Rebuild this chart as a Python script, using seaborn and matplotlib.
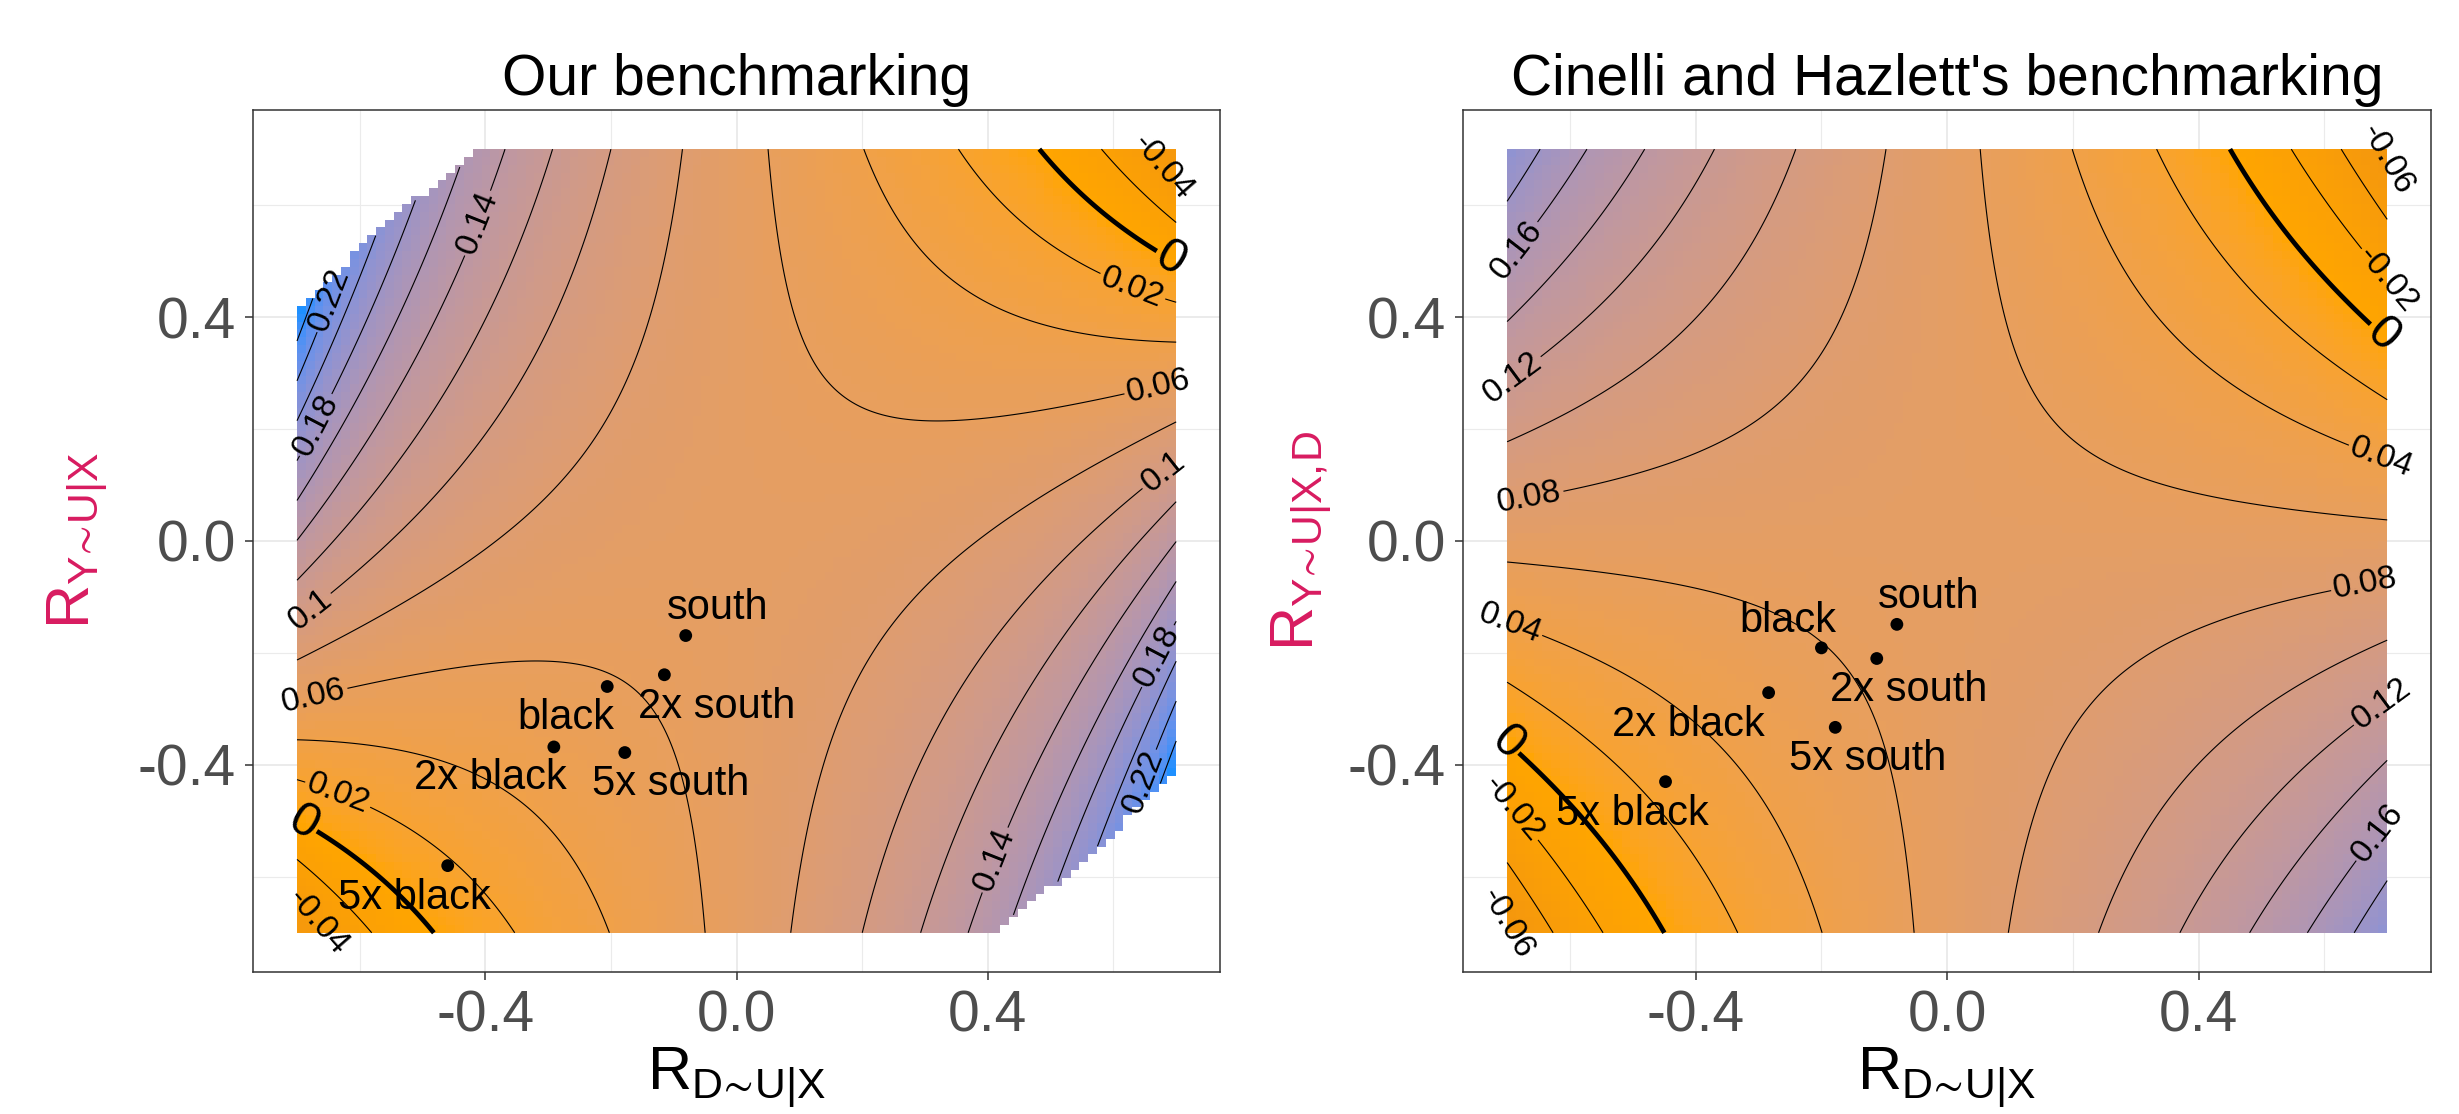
import numpy as np
import matplotlib
matplotlib.use("Agg")
import matplotlib.pyplot as plt
import seaborn as sns
from matplotlib.colors import ListedColormap, Normalize

# sensitivity model
EST = 0.067          # estimate with no confounding
BIAS_SCALE = 0.19    # se * sqrt(df)
R_YD = 0.37          # partial correlation of Y and D given X
R_MAX = 0.7

levels_ours = [-0.04, -0.02, 0.02, 0.04, 0.06, 0.08, 0.10, 0.12, 0.14, 0.16, 0.18, 0.20, 0.22, 0.24]
levels_ch = [-0.06, -0.04, -0.02, 0.02, 0.04, 0.06, 0.08, 0.10, 0.12, 0.14, 0.16, 0.18]

bench_labels = ["south", "2x south", "5x south", "black", "2x black", "5x black"]
ours_rdu = [-0.081, -0.115, -0.178, -0.206, -0.291, -0.460]
ours_ryu = [-0.169, -0.239, -0.378, -0.260, -0.368, -0.580]
ch_rdu = [-0.080, -0.112, -0.178, -0.200, -0.284, -0.448]
ch_ryu = [-0.149, -0.210, -0.333, -0.191, -0.271, -0.430]

# label offsets (points) for the benchmark names
ours_offsets = [(23, 20), (38, -23), (33, -23), (-30, -23), (-46, -22), (-24, -23)]
ch_offsets = [(23, 20), (23, -23), (23, -23), (-24, 19), (-58, -23), (-24, -23)]

# where the contour labels sit
ours_label_pos = [(-0.650, 0.432), (-0.406, 0.565), (-0.668, 0.206), (-0.687, -0.112),
                  (-0.677, -0.262), (-0.631, -0.441), (-0.668, -0.682), (0.669, 0.659),
                  (0.625, 0.438), (0.675, 0.261), (0.685, 0.115), (0.673, -0.207),
                  (0.644, -0.429), (0.407, -0.568)]
ours_zero_pos = [(-0.684, -0.492), (0.685, 0.492)]
ch_label_pos = [(-0.685, 0.520), (-0.691, 0.292), (-0.667, 0.090), (-0.691, -0.131),
                (-0.691, -0.479), (-0.698, -0.682), (0.692, 0.672), (0.692, 0.457),
                (0.686, 0.134), (0.667, -0.087), (0.698, -0.302), (0.686, -0.523)]
ch_zero_pos = [(-0.698, -0.353), (0.692, 0.368)]


def ch_estimate(r_du, r_yu_d):
    return EST - BIAS_SCALE * r_du * r_yu_d / np.sqrt(1 - r_du ** 2)


def ours_estimate(r_du, r_yu):
    r_yu_d = (r_yu - R_YD * r_du) / np.sqrt((1 - R_YD ** 2) * (1 - r_du ** 2))
    return np.where(np.abs(r_yu_d) <= 1, ch_estimate(r_du, r_yu_d), np.nan)


_M = np.array([[0.4124, 0.3576, 0.1805], [0.2126, 0.7152, 0.0722], [0.0193, 0.1192, 0.9505]])
_WHITE = np.array([0.95047, 1.0, 1.08883])


def to_lab(hex_color):
    c = np.array(matplotlib.colors.to_rgb(hex_color))
    lin = np.where(c <= 0.04045, c / 12.92, ((c + 0.055) / 1.055) ** 2.4)
    xyz = _M @ lin / _WHITE
    f = np.where(xyz > 0.008856, np.cbrt(xyz), 7.787 * xyz + 16 / 116)
    return np.array([116 * f[1] - 16, 500 * (f[0] - f[1]), 200 * (f[1] - f[2])])


def from_lab(lab):
    fy = (lab[0] + 16) / 116
    f = np.array([fy + lab[1] / 500, fy, fy - lab[2] / 200])
    xyz = np.where(f ** 3 > 0.008856, f ** 3, (f - 16 / 116) / 7.787) * _WHITE
    lin = np.linalg.inv(_M) @ xyz
    c = np.where(lin <= 0.0031308, 12.92 * lin, 1.055 * np.abs(lin) ** (1 / 2.4) - 0.055)
    return np.clip(c, 0, 1)


def gradient2(low, mid, high, n=256):
    lo, mi, hi = to_lab(low), to_lab(mid), to_lab(high)
    out = []
    for t in np.linspace(0, 1, n):
        if t < 0.5:
            lab = lo + (mi - lo) * (t / 0.5)
        else:
            lab = mi + (hi - mi) * ((t - 0.5) / 0.5)
        out.append(from_lab(lab))
    return ListedColormap(out)


sns.set_style("white")
plt.rcParams['font.family'] = ['Liberation Sans', 'DejaVu Sans']
plt.rcParams['text.color'] = 'black'
plt.rcParams['mathtext.fontset'] = 'custom'
plt.rcParams['mathtext.rm'] = 'Liberation Sans'
plt.rcParams['contour.negative_linestyle'] = 'solid'

cmap = gradient2("#D2691E", "#FFA500", "#1E90FF")

# raster cells and a finer grid for the lines
edges = np.linspace(-R_MAX, R_MAX, 101)
centers = (edges[:-1] + edges[1:]) / 2
cx, cy = np.meshgrid(centers, centers)
fine = np.linspace(-R_MAX, R_MAX, 351)
fx, fy = np.meshgrid(fine, fine)

ours_cells = ours_estimate(cx, cy)
ch_cells = ch_estimate(cx, cy)
lim = max(np.nanmax(np.abs(ours_cells)), np.nanmax(np.abs(ch_cells)))
norm = Normalize(vmin=-lim, vmax=lim)


def level_text(v):
    return f"{round(v, 2):g}"


def draw_panel(ax, cells, surface, levels, label_pos, zero_pos, rdu, ryu, offsets, title, ylabel):
    ax.set_axisbelow(True)
    ax.pcolormesh(edges, edges, np.ma.masked_invalid(cells), cmap=cmap, norm=norm,
                  shading='flat', zorder=1)
    surface = np.ma.masked_invalid(surface)
    cs = ax.contour(fx, fy, surface, levels=levels, colors='black', linewidths=0.8,
                    linestyles='solid', zorder=2)
    ax.clabel(cs, manual=label_pos, inline=True, inline_spacing=6, fmt=level_text, fontsize=24)
    cz = ax.contour(fx, fy, surface, levels=[0.0], colors='black', linewidths=3.4,
                    linestyles='solid', zorder=2)
    ax.clabel(cz, manual=zero_pos, inline=True, inline_spacing=4, fmt=level_text, fontsize=35)

    sns.scatterplot(x=rdu, y=ryu, color='black', s=85, edgecolor='none', ax=ax, zorder=4, legend=False)
    for name, x, y, (dx, dy) in zip(bench_labels, rdu, ryu, offsets):
        ax.annotate(name, (x, y), xytext=(dx, dy), textcoords='offset points',
                    ha='center', va='center', fontsize=30, color='black', zorder=5)

    ax.set_xlim(-0.77, 0.77)
    ax.set_ylim(-0.77, 0.77)
    ticks = [-0.4, 0.0, 0.4]
    ax.set_xticks(ticks)
    ax.set_yticks(ticks)
    ax.set_xticklabels([f"{t:.1f}" for t in ticks])
    ax.set_yticklabels([f"{t:.1f}" for t in ticks])
    ax.set_xticks([-0.6, -0.2, 0.2, 0.6], minor=True)
    ax.set_yticks([-0.6, -0.2, 0.2, 0.6], minor=True)
    ax.grid(which='major', color='#EBEBEB', linewidth=1.4)
    ax.grid(which='minor', color='#EBEBEB', linewidth=0.8)
    ax.tick_params(which='major', length=5.5, width=1.1, color='#333333', pad=7,
                   labelsize=41, labelcolor='#4D4D4D', bottom=True, left=True)
    ax.tick_params(which='minor', length=0)
    for sp in ax.spines.values():
        sp.set_color('#333333')
        sp.set_linewidth(1.1)

    ax.set_title(title, fontsize=41, pad=11, color='black')
    ax.set_xlabel(r'$\mathregular{R_{D\!\sim\!U|X}}$', fontsize=44, color='black')
    ax.set_ylabel(ylabel, fontsize=44, color='#D81B60')
    ax.xaxis.set_label_coords(0.5, -0.085)


fig = plt.figure(figsize=(24.59, 11.14), dpi=100)
ax1 = fig.add_axes([0.1029, 0.1275, 0.3933, 0.7738])
ax2 = fig.add_axes([0.5950, 0.1275, 0.3937, 0.7738])

draw_panel(ax1, ours_cells, ours_estimate(fx, fy), levels_ours, ours_label_pos, ours_zero_pos,
           ours_rdu, ours_ryu, ours_offsets, "Our benchmarking",
           r'$\mathregular{R_{Y\!\sim\!U|X}}$')
ax1.yaxis.set_label_coords(-0.148, 0.5)

draw_panel(ax2, ch_cells, ch_estimate(fx, fy), levels_ch, ch_label_pos, ch_zero_pos,
           ch_rdu, ch_ryu, ch_offsets, "Cinelli and Hazlett's benchmarking",
           r'$\mathregular{R_{Y\!\sim\!U|X,\!D}}$')
ax2.yaxis.set_label_coords(-0.133, 0.5)

fig.savefig("out.png", dpi=100, facecolor='white')
plt.close(fig)
